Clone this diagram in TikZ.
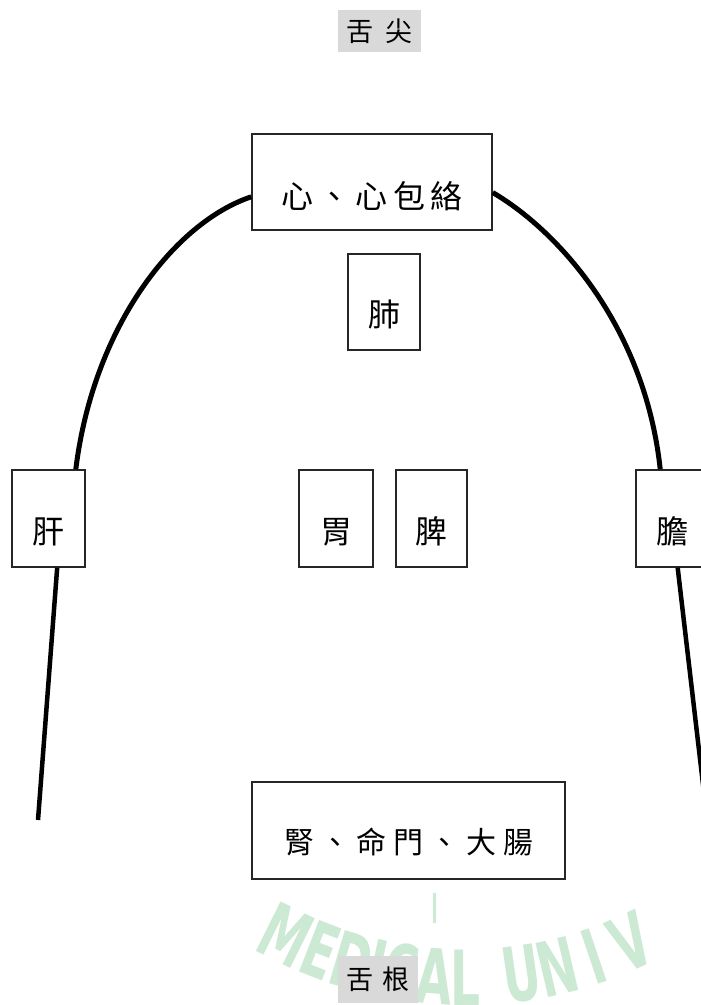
\documentclass[tikz,border=0pt]{standalone}
\usepackage{fontspec}
\usetikzlibrary{decorations.text,decorations.pathmorphing}
\newfontfamily\cjk{Noto Sans CJK TC}
\newfontfamily\wmfont[FakeStretch=0.62]{DejaVu Sans}
\definecolor{wmgreen}{RGB}{204,233,212}
\definecolor{tabgray}{RGB}{217,217,217}
\makeatletter
\newcommand\spreadtext[2]{\begingroup\def\sp@gap{#1}\let\sp@first\relax\@tfor\sp@c:=#2\do{\ifx\sp@first\relax\let\sp@first\@empty\else\hspace{\sp@gap}\fi\sp@c}\endgroup}
\makeatother
\tikzset{
  organ/.style={draw=black!85, line width=1.5pt, fill=white, inner sep=0pt,
    font=\cjk\fontsize{32}{32}\selectfont, text depth=0pt, minimum height=97pt},
  tab/.style={fill=tabgray, inner sep=0pt, font=\cjk\fontsize{27}{27}\selectfont},
  tongue/.style={line width=5pt, line join=round, black},
}
\begin{document}
\begin{tikzpicture}[x=1pt,y=1pt]
\clip (0,0) rectangle (701,1005);
\fill[white] (0,0) rectangle (701,1005);
% watermark
\begin{scope}
\clip (0,0) rectangle (701,112);
\path[decorate, decoration={text along path, text align=left,
  text={|\wmfont\bfseries\fontsize{76}{76}\selectfont\color{wmgreen}|MEDICAL{\hbox to 26pt{}}UN{\hbox to 12pt{}}I{\hbox to 16pt{}}V}}]
  (465,430) ++(240.5:430) arc[start angle=240.5, end angle=330, radius=430];
\draw[wmgreen, line width=3pt] (434,112) -- (434,82);
\end{scope}
% labels
\node[tab, minimum width=83pt, minimum height=42pt] (tip) at (379.5,974) {\spreadtext{12pt}{舌尖}};
\node[tab, minimum width=80pt, minimum height=47pt] (root) at (378,25.5) {\spreadtext{10pt}{舌根}};
% organs
\node[organ, minimum width=240pt, minimum height=96pt, text height=54pt] (heart) at (372,823) {\spreadtext{5.5pt}{心、心包絡}\hspace{12pt}};
\node[organ, minimum width=72pt, minimum height=96pt, text height=50pt] (lung) at (384,703) {肺};
\node[organ, minimum width=73pt, text height=51pt] (liver) at (48.5,486.5) {肝};
\node[organ, minimum width=74pt, text height=51pt] (stomach) at (336,486.5) {胃};
\node[organ, minimum width=71pt, text height=51pt] (spleen) at (431.5,486.5) {脾};
\node[organ, minimum width=73pt, text height=51pt] (gall) at (672.5,486.5) {膽};
\node[organ, minimum width=313pt, text height=46pt, font=\cjk\fontsize{30}{30}\selectfont] (kidney) at (408.5,174.5) {\spreadtext{6.5pt}{腎、命門、大腸}\hspace{12pt}};
% tongue outline
\coordinate (lend) at (38,185);
\coordinate (rend) at (706,195);
\draw[tongue] (heart.187) .. controls +(-75,-25) and +(18,145) .. (liver.61);
\draw[tongue] (heart.-5) .. controls +(68,-40) and +(-15,140) .. (gall.104);
\draw[tongue, line width=4.5pt] (liver.-80) -- (lend);
\draw[tongue, line width=4.5pt] (gall.-84) -- (rend);
\end{tikzpicture}
\end{document}
